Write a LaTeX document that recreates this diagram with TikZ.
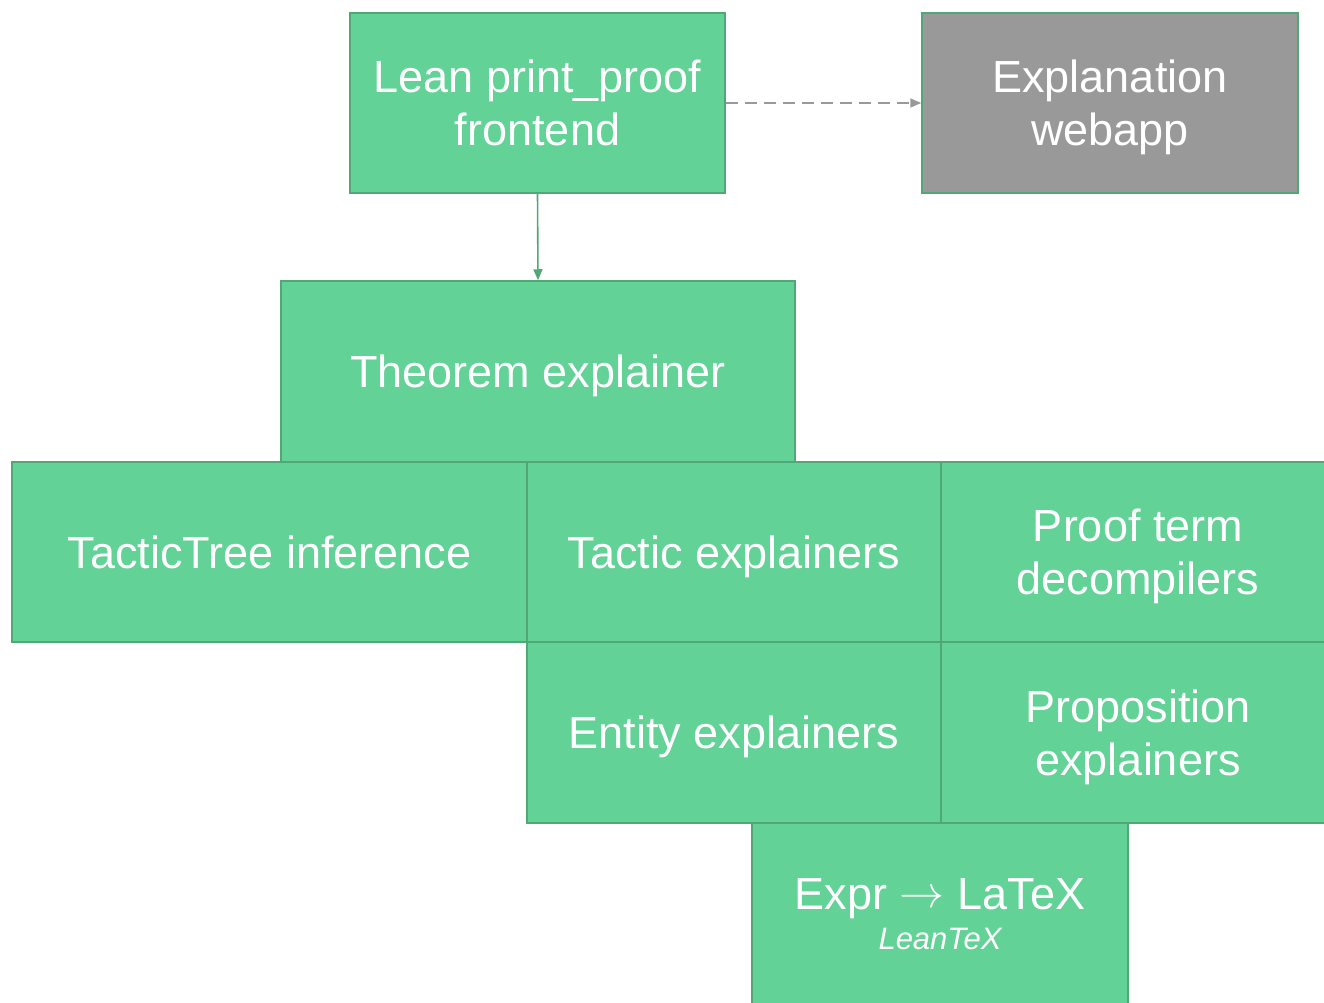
\documentclass[tikz,border=0pt]{standalone}
\usepackage{fontspec}
\setmainfont{Liberation Sans}
\usetikzlibrary{arrows.meta}
\definecolor{boxfill}{HTML}{63D297}
\definecolor{boxline}{HTML}{4FA876}
\definecolor{webgray}{HTML}{999999}
\tikzset{
  block/.style={draw=boxline, line width=1.5pt, fill=boxfill, text=white,
    align=center, inner sep=0pt, text depth=0pt,
    font=\fontsize{45}{53}\selectfont},
  flow/.style={draw=boxline, line width=1.6pt,
    -{Triangle[length=11pt,width=9pt]}},
  optional/.style={draw=webgray, line width=1.6pt, dash pattern=on 12pt off 7pt,
    -{Triangle[length=11pt,width=9pt]}}
}
% a maths arrow set one em wide at the block font size
\newcommand{\maparrow}{\raisebox{2pt}{\resizebox{45pt}{!}{$\rightarrow$}}}
\begin{document}
\begin{tikzpicture}[x=1pt,y=-1pt]
\useasboundingbox (0,0) rectangle (1324,1003);
\clip (0,0) rectangle (1324,1003);
% top row
\node[block, minimum width=375pt, minimum height=180pt] (front) at (537.5,103)
  {Lean print\_proof\\frontend};
\node[block, fill=webgray, minimum width=376pt, minimum height=180pt] (web) at (1110,103)
  {Explanation\\webapp};
% theorem explainer
\node[block, minimum width=514pt, minimum height=181pt] (thm) at (538,371.5)
  {Theorem explainer};
% explainer grid
\node[block, minimum width=515pt, minimum height=180pt] (tree) at (269.5,552)
  {TacticTree inference};
\node[block, minimum width=414pt, minimum height=180pt] (tac) at (734,552)
  {Tactic explainers};
\node[block, minimum width=394pt, minimum height=180pt] (term) at (1138,552)
  {Proof term\\decompilers};
\node[block, minimum width=414pt, minimum height=181pt] (ent) at (734,732.5)
  {Entity explainers};
\node[block, minimum width=394pt, minimum height=181pt] (prop) at (1138,732.5)
  {Proposition\\explainers};
% expression printer
\node[block, minimum width=376pt, minimum height=182pt] (expr) at (940,914)
  {Expr \maparrow{} LaTeX\\[-13pt]{\fontsize{31}{53}\selectfont\itshape LeanTeX}};
% connectors
\draw[flow] (front.south) -- (thm.north);
\draw[optional] (front.east) -- (web.west);
\end{tikzpicture}
\end{document}
